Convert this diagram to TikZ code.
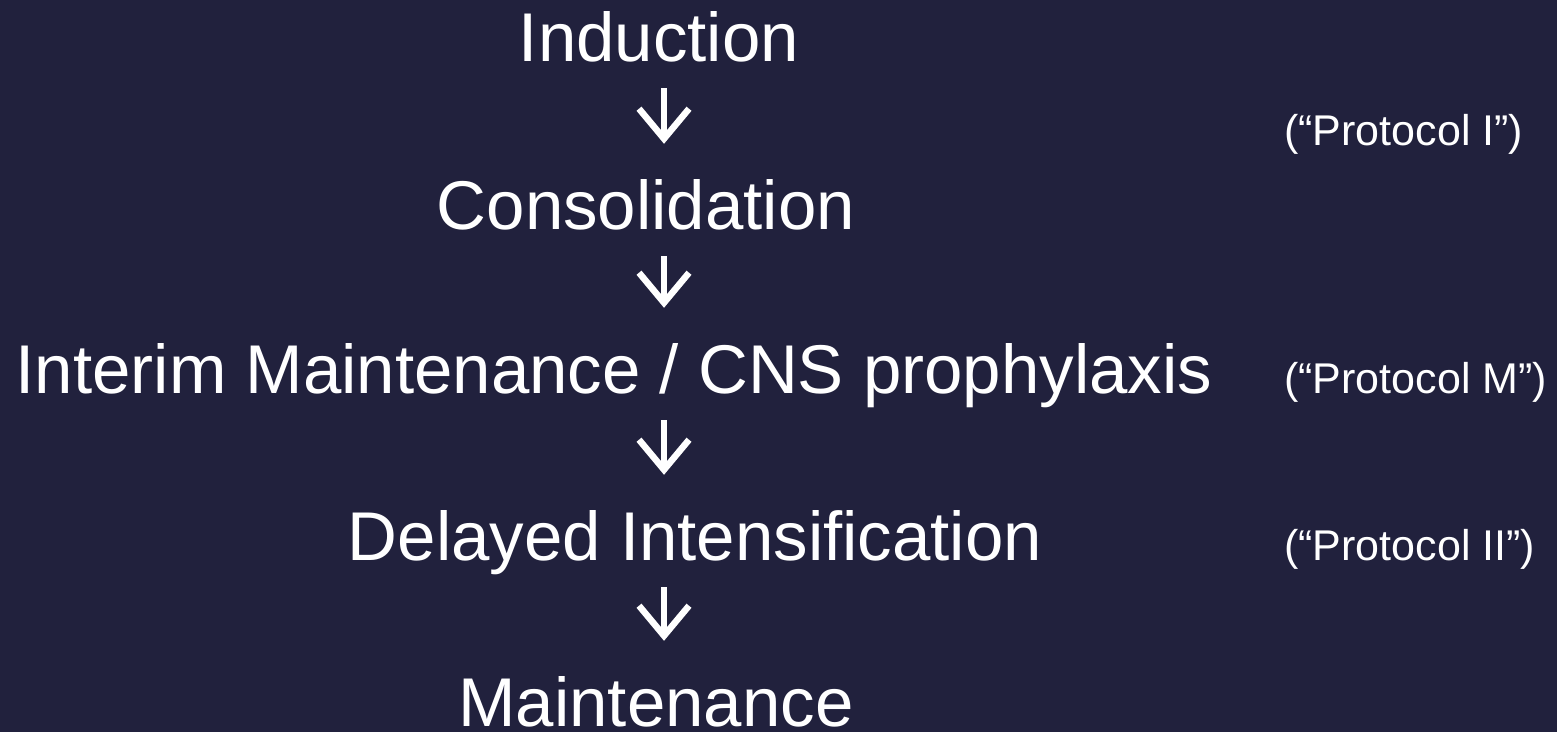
\documentclass[tikz,border=0pt]{standalone}
\usepackage{fontspec}
\setmainfont{Liberation Sans}
\usepackage{xcolor}
\usetikzlibrary{arrows.meta}
\definecolor{slidebg}{RGB}{33,33,61}

\begin{document}
\begin{tikzpicture}[x=1pt,y=-1pt,
            phase/.style={text=white, inner sep=0pt, anchor=base, font=\fontsize{69}{80}\selectfont, text height=52pt, text depth=16pt},
            proto/.style={text=white, inner sep=0pt, anchor=base west, font=\fontsize{43}{50}\selectfont},
            flow/.style={white, line width=6.5pt, -{Straight Barb[length=30pt,width=50pt]}, shorten <=11pt, shorten >=33pt}]
				\fill[slidebg] (0,0) rectangle (1557,732);

				\node[phase] (induction) at (659,61) {Induction};
				\node[phase] (consolidation) at (646,229) {Consolidation};
				\node[phase] (interim) at (614,393) {Interim Maintenance / CNS prophylaxis};
				\node[phase] (delayed) at (695,560) {Delayed Intensification};
				\node[phase] (maintenance) at (656,726) {Maintenance};

				\node[proto] (protoI) at (1284,145) {(“Protocol I”)};
				\node[proto] (protoM) at (1284,393) {(“Protocol M”)};
				\node[proto] (protoII) at (1284,560) {(“Protocol II”)};

				\coordinate (stem) at (664,0);
				\draw[flow] (induction.south -| stem) -- (consolidation.north -| stem);
				\draw[flow] (consolidation.south -| stem) -- (interim.north -| stem);
				\draw[flow] (interim.south -| stem) -- (delayed.north -| stem);
				\draw[flow] (delayed.south -| stem) -- (maintenance.north -| stem);
 		\end{tikzpicture}
\end{document}
